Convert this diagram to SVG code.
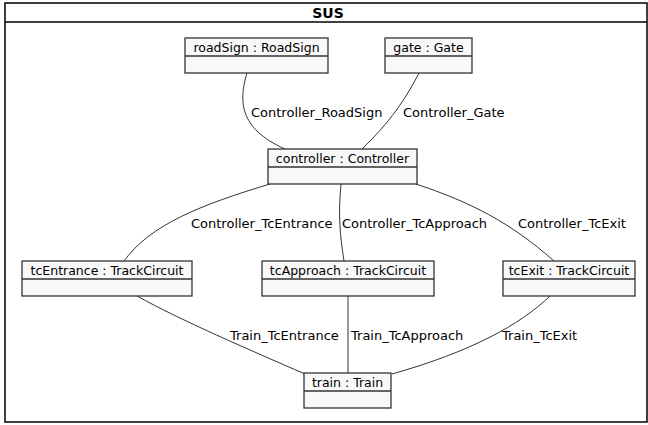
<svg xmlns="http://www.w3.org/2000/svg" width="648" height="425" viewBox="0 0 648 425">
<style>
.frame{fill:#fff;stroke:#000;stroke-width:1.5}
.box{fill:#f8f8f8;stroke:#333;stroke-width:1.3}
.nt{font-family:"DejaVu Sans",sans-serif;font-size:12.5px;fill:#000;text-anchor:middle}
.lt{font-family:"DejaVu Sans",sans-serif;font-size:13px;fill:#000}
.c{fill:none;stroke:#333;stroke-width:1}
.title{font-family:"DejaVu Sans",sans-serif;font-size:14px;font-weight:bold;text-anchor:middle}
</style>
<rect width="648" height="425" fill="#fff"/>
<g id="frame">
<rect class="frame" x="5" y="3" width="642" height="419"/>
<line x1="5" y1="22" x2="647" y2="22" stroke="#000" stroke-width="1.5"/>
<text class="title" x="328" y="18">SUS</text>
</g>
<g id="connectors">
<path class="c" d="M247,73 C239,100 238,128 285,149"/>
<path class="c" d="M419,73 C405,100 390,122 362,149"/>
<path class="c" d="M270,184 C200,205 150,225 124,261"/>
<path class="c" d="M341,184 C338,215 340,235 344,261"/>
<path class="c" d="M416,184 C470,202 510,222 554,261"/>
<path class="c" d="M137,296 C180,320 250,350 305,374"/>
<path class="c" d="M348,296 L348,373"/>
<path class="c" d="M550,296 C520,325 470,352 392,374"/>
<text class="lt" x="251" y="117">Controller_RoadSign</text>
<text class="lt" x="403" y="117">Controller_Gate</text>
<text class="lt" x="191" y="228">Controller_TcEntrance</text>
<text class="lt" x="342" y="228">Controller_TcApproach</text>
<text class="lt" x="518" y="228">Controller_TcExit</text>
<text class="lt" x="230" y="340">Train_TcEntrance</text>
<text class="lt" x="351" y="340">Train_TcApproach</text>
<text class="lt" x="502" y="340">Train_TcExit</text>
</g>
<g id="roadSign">
<rect class="box" x="185" y="38" width="143" height="35"/>
<line class="box" x1="185" y1="56" x2="328" y2="56"/>
<text class="nt" x="256.5" y="52">roadSign : RoadSign</text>
</g>
<g id="gate">
<rect class="box" x="385" y="38" width="87" height="35"/>
<line class="box" x1="385" y1="56" x2="472" y2="56"/>
<text class="nt" x="428.5" y="52">gate : Gate</text>
</g>
<g id="controller">
<rect class="box" x="268" y="149" width="149" height="35"/>
<line class="box" x1="268" y1="167" x2="417" y2="167"/>
<text class="nt" x="342.5" y="163">controller : Controller</text>
</g>
<g id="tcEntrance">
<rect class="box" x="22" y="261" width="170" height="35"/>
<line class="box" x1="22" y1="279" x2="192" y2="279"/>
<text class="nt" x="107" y="275">tcEntrance : TrackCircuit</text>
</g>
<g id="tcApproach">
<rect class="box" x="262" y="261" width="172" height="35"/>
<line class="box" x1="262" y1="279" x2="434" y2="279"/>
<text class="nt" x="348" y="275">tcApproach : TrackCircuit</text>
</g>
<g id="tcExit">
<rect class="box" x="503" y="261" width="132" height="35"/>
<line class="box" x1="503" y1="279" x2="635" y2="279"/>
<text class="nt" x="569" y="275">tcExit : TrackCircuit</text>
</g>
<g id="train">
<rect class="box" x="304" y="373" width="87" height="35"/>
<line class="box" x1="304" y1="391" x2="391" y2="391"/>
<text class="nt" x="347.5" y="387">train : Train</text>
</g>
</svg>
